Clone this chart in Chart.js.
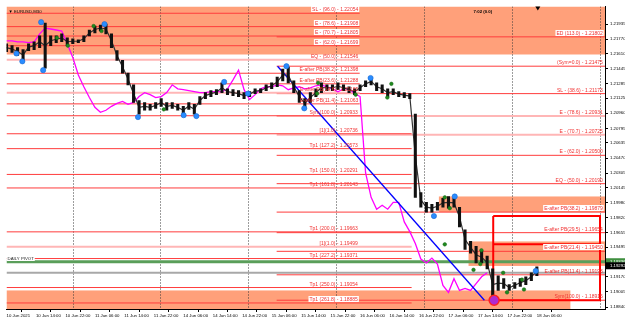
<!DOCTYPE html>
<html><head><meta charset="utf-8">
<script src="https://cdn.jsdelivr.net/npm/chart.js@4.4.1/dist/chart.umd.min.js"></script>
<style>html,body{margin:0;padding:0;background:#fff;overflow:hidden}canvas{display:block}</style>
</head><body>
<canvas id="c" width="625" height="320"></canvas>
<script>
// ---------------- DATA ----------------
const timeLabels = ["10 Jun 2021","10 Jun 14:00","10 Jun 22:00","11 Jun 06:00","11 Jun 14:00","11 Jun 22:00","14 Jun 06:00","14 Jun 14:00","14 Jun 22:00","15 Jun 06:00","15 Jun 14:00","15 Jun 22:00","16 Jun 06:00","16 Jun 14:00","16 Jun 22:00","17 Jun 06:00","17 Jun 14:00","17 Jun 22:00","18 Jun 06:00"];
const timeTickBars = [0,16,32,48,64,80,96,112,128,144,160,176,192,208,224,240,256,272,288];
const daySeparatorBars = [36.0,83.3,131.1,178.9,226.7,274.5,322.3];
const priceTicks = [1.21935,1.21770,1.21610,1.21445,1.21285,1.21125,1.20960,1.20795,1.20635,1.20470,1.20305,1.20145,1.19980,1.19820,1.19655,1.19495,1.19170,1.19005,1.18840];
const priceMin = 1.18819, priceMax = 1.22128, barMin = 0, barMax = 325;

// EURUSD M30 price, one sample every 3 bars (high / low)
const candleHigh = [1.21721,1.21700,1.21678,1.21657,1.21721,1.21742,1.21807,1.21946,1.21807,1.21807,1.21828,1.21785,1.21775,1.21764,1.21807,1.21871,1.21914,1.21925,1.21935,1.21828,
1.21646,1.21539,1.21400,1.21271,1.21100,1.21078,1.21057,1.21078,1.21121,1.21078,1.21078,1.21057,1.21036,1.21078,1.21057,1.21143,1.21186,1.21207,1.21218,1.21293,
1.21228,1.21218,1.21207,1.21186,1.21196,1.21228,1.21228,1.21271,1.21293,1.21357,1.21443,1.21464,1.21314,1.21207,1.21121,1.21186,1.21228,1.21293,1.21271,1.21271,
1.21293,1.21271,1.21250,1.21228,1.21271,1.21314,1.21346,1.21293,1.21271,1.21228,1.21228,1.21196,1.21186,1.21175,1.20950,1.20093,1.19986,1.19965,1.19986,1.20029,
1.20050,1.20029,1.19932,1.19686,1.19558,1.19504,1.19450,1.19397,1.19258,1.19183,1.19151,1.19086,1.19108,1.19151,1.19172,1.19215,1.19279];
const candleLow = [1.21635,1.21625,1.21592,1.21539,1.21646,1.21657,1.21678,1.21453,1.21700,1.21732,1.21742,1.21700,1.21721,1.21732,1.21742,1.21807,1.21839,1.21860,1.21828,1.21678,
1.21539,1.21400,1.21271,1.21078,1.20950,1.20993,1.20993,1.21014,1.21036,1.20993,1.21014,1.20993,1.20950,1.21003,1.20950,1.21057,1.21121,1.21143,1.21164,1.21186,
1.21164,1.21153,1.21143,1.21121,1.21143,1.21175,1.21186,1.21207,1.21228,1.21250,1.21314,1.21293,1.21186,1.21078,1.21014,1.21078,1.21143,1.21186,1.21207,1.21207,
1.21218,1.21207,1.21186,1.21164,1.21207,1.21250,1.21271,1.21207,1.21186,1.21143,1.21164,1.21143,1.21132,1.21121,1.20040,1.19932,1.19879,1.19879,1.19900,1.19932,
1.19922,1.19932,1.19718,1.19472,1.19429,1.19322,1.19322,1.19258,1.18915,1.19022,1.19044,1.19022,1.19044,1.19065,1.19086,1.19129,1.19183];
const sampleStep = 3;

// magenta overlay line (same sampling)
const overlayLine = [1.21753,1.21753,1.21742,1.21742,1.21732,1.21742,1.21828,1.21892,1.21882,1.21871,1.21860,1.21721,1.21571,1.21378,1.21250,1.21132,1.21025,1.20971,1.20993,1.21036,
1.21068,1.21089,1.21057,1.21078,1.21143,1.21186,1.21164,1.21132,1.21143,1.21186,1.21271,1.21228,1.21218,1.21207,1.21196,1.21186,1.21186,1.21196,1.21196,1.21196,
1.21228,1.21325,1.21432,1.21218,1.21111,1.21164,1.21228,1.21250,1.21250,1.21271,1.21261,1.21218,1.21239,1.21250,1.21228,1.21239,1.21261,1.21271,1.21250,1.21228,
1.21196,1.21228,1.21228,1.21175,1.21143,1.20307,1.20040,1.19911,1.19954,1.19911,1.19986,1.19986,1.19772,1.19665,1.19536,1.19365,1.19322,1.19376,1.19311,1.19076,
1.19001,1.19151,1.19022,1.19044,1.19022,1.19097,1.19172,1.19215];

// fractal markers [bar, price]
const blueDots = [[5.4,1.21614],[8.6,1.21528],[19.9,1.21432],[18.8,1.21957],[53.2,1.21935],[71.4,1.20918],[96.2,1.20939],[103.1,1.20929],[118.2,1.21303],[131.1,1.21175],[152.0,1.21475],[161.7,1.21014],[197.7,1.21346],[232.1,1.19836],[243.4,1.20050],[287.4,1.19236]];
const greenDots = [[27.4,1.21785],[33.3,1.21700],[47.3,1.21914],[51.6,1.21860],[85.4,1.21003],[168.7,1.21175],[169.2,1.21293],[189.6,1.21164],[206.8,1.21132],[209.0,1.21282],[238.0,1.20040],[240.7,1.19922],[238.0,1.19526],[253.6,1.19247],[257.3,1.19311],[257.9,1.19461],[269.7,1.19215],[271.8,1.19001],[279.9,1.19140],[281.0,1.19033]];
const bigDot = [[264.8,1.18915]];

// trend line
const trendBars = [147.2,259.5];
const trendPrices = [1.21475,1.18915];

// level set A (first pattern)
const levelsATop = [1.22054,1.21908,1.21805,1.21699,1.21546,1.21398,1.21282,1.21185,1.21063];
const labelsATop = ["SL - (96.0) - 1.22054","E - (78.6) - 1.21908","E - (70.7) - 1.21805","E - (62.0) - 1.21699","EQ - (50.0) - 1.21546","E-after PB(38.2) - 1.21398","E-after PB(23.6) - 1.21288","E-after PB(14.6) - 1.21185","E-after PB(11.4) - 1.21063"];
const levelsATp = [1.20933,1.20736,1.20573,1.20291,1.20143,1.19663,1.19499,1.19371,1.19054,1.18885];
const labelsATp = ["Sym(100.0) - 1.20933","[1](1.0) - 1.20736","Tp1 (127.2) - 1.20573","Tp1 (150.0) - 1.20291","Tp1 (161.8) - 1.20143","Tp1 (200.0) - 1.19663","[1](1.0) - 1.19499","Tp1 (227.2) - 1.19371","Tp1 (250.0) - 1.19054","Tp1 (261.8) - 1.18885"];
const spanATop = [0,191.8], spanATp = [0,220];
// level set B (second pattern)
const levelsB = [1.21796,1.21475,1.21175,1.20929,1.20725,1.20500,1.20190,1.19879,1.19654,1.19450,1.19193,1.18915];
const labelsB = ["ED (113.0) - 1.21802","(Sym=0.0) - 1.21475","SL - (38.6) - 1.21173","E - (78.6) - 1.20931","E - (70.7) - 1.20725","E - (62.0) - 1.20500","EQ - (50.0) - 1.20190","E-after PB(38.2) - 1.19879","E-after PB(29.5) - 1.19654","E-after PB(21.4) - 1.19450","E-after PB(11.4) - 1.19193","Sym(100.0) - 1.18915"];
const spanB = [146.7,325];

// zones
const zoneFrom = [0,234.8,250.9,0];
const zoneTo = [325,325,325,306.2];
const zoneTop = [1.22128,1.20050,1.19558,1.19022];
const zoneBottom = [1.21603,1.19879,1.19290,1.18819];

// box
const boxBars = [264.3,322.3];
const boxPrices = [1.19836,1.18915];
const boxMid = 1.19526;

const pivotPrice = 1.19336, bidPrice = 1.19292, grayLevel = 1.19215;
const symbolTitle = "EURUSD,M30", timerText = "7:02 (0.0)", pivotText = "DAILY PIVOT";

// ---------------- STYLE / BUILD ----------------
const RED = '#ff3c3c', PALE = '#ffb6b6', ZONE = '#FFA07A';
const paleA_top = new Set([4,7]), paleA_tp = new Set([6]), paleB = new Set([3,4]);
const FONT = 'Liberation Sans, Arial, sans-serif';
const AXIS_FONT = 4.3;

const datasets = [];
function level(price, span, color, w) {
  datasets.push({type:'line', data:[{x:span[0],y:price},{x:span[1],y:price}], borderColor:color, borderWidth:w, pointRadius:0, order:20});
}
levelsATop.forEach((p,i)=>level(p, spanATop, paleA_top.has(i)?PALE:RED, paleA_top.has(i)?2:1));
levelsATp.forEach((p,i)=>level(p, spanATp, paleA_tp.has(i)?PALE:RED, paleA_tp.has(i)?2:1));
levelsB.forEach((p,i)=>level(p, spanB, paleB.has(i)?PALE:RED, paleB.has(i)?2:1));
datasets.push({type:'line', data:[{x:barMin,y:pivotPrice},{x:barMax,y:pivotPrice}], borderColor:'#5a9e5a', borderWidth:3, pointRadius:0, order:19});
datasets.push({type:'line', data:[{x:barMin,y:grayLevel},{x:barMax,y:grayLevel}], borderColor:'#a8a8a8', borderWidth:2, pointRadius:0, order:19});
datasets.push({type:'line', data:[{x:boxBars[0],y:boxPrices[0]},{x:boxBars[1],y:boxPrices[0]},{x:boxBars[1],y:boxPrices[1]},{x:boxBars[0],y:boxPrices[1]},{x:boxBars[0],y:boxPrices[0]}], borderColor:'#ff0000', borderWidth:2, pointRadius:0, order:18});
datasets.push({type:'line', data:[{x:boxBars[0],y:boxMid},{x:boxBars[1],y:boxMid}], borderColor:'#ff0000', borderWidth:2, pointRadius:0, order:18});
datasets.push({type:'line', data:overlayLine.map((v,i)=>({x:i*sampleStep,y:v})), borderColor:'#ff00ff', borderWidth:1.3, pointRadius:0, tension:0, order:8});
datasets.push({type:'line', data:trendBars.map((b,i)=>({x:b,y:trendPrices[i]})), borderColor:'#0000ff', borderWidth:1.3, pointRadius:0, order:7});
datasets.push({type:'bar', data:candleHigh.map((h,i)=>({x:i*sampleStep,y:[candleLow[i],h]})), backgroundColor:'#111', barThickness:2.4, grouped:false, order:5});
datasets.push({type:'line', data:candleHigh.map((h,i)=>({x:i*sampleStep,y:(h+candleLow[i])/2})), borderColor:'#333', borderWidth:1.2, pointRadius:0, order:6});
datasets.push({type:'line', showLine:false, data:blueDots.map(d=>({x:d[0],y:d[1]})), pointRadius:2.6, pointBackgroundColor:'#2a8cff', pointBorderColor:'#1a6ad0', pointBorderWidth:0.6, order:2});
datasets.push({type:'line', showLine:false, data:greenDots.map(d=>({x:d[0],y:d[1]})), pointRadius:1.8, pointBackgroundColor:'#1f8a1f', pointBorderColor:'#146414', pointBorderWidth:0.5, order:2});
datasets.push({type:'line', showLine:false, data:bigDot.map(d=>({x:d[0],y:d[1]})), pointRadius:5, pointBackgroundColor:'#b02ad0', pointBorderColor:'#ff2020', pointBorderWidth:1.5, order:1});

function inZone(bar, price){
  for(let i=0;i<zoneFrom.length;i++){ if(bar>=zoneFrom[i]&&bar<=zoneTo[i]&&price<=zoneTop[i]&&price>=zoneBottom[i]) return true; }
  return false;
}

const overlay = {
  id:'overlay',
  beforeDatasetsDraw(chart){
    const {ctx, chartArea:a, scales:{x,y}} = chart;
    ctx.save();
    ctx.beginPath(); ctx.rect(a.left,a.top,a.right-a.left,a.bottom-a.top); ctx.clip();
    ctx.fillStyle = ZONE;
    for(let i=0;i<zoneFrom.length;i++){
      const x0=x.getPixelForValue(zoneFrom[i]), x1=x.getPixelForValue(zoneTo[i]);
      const y0=y.getPixelForValue(zoneTop[i]), y1=y.getPixelForValue(zoneBottom[i]);
      ctx.fillRect(x0,y0,x1-x0,y1-y0);
    }
    ctx.strokeStyle='#3a3a3a'; ctx.lineWidth=1; ctx.setLineDash([1,2]);
    daySeparatorBars.forEach(b=>{const px=Math.round(x.getPixelForValue(b))+0.5; ctx.beginPath(); ctx.moveTo(px,a.top); ctx.lineTo(px,a.bottom); ctx.stroke();});
    ctx.restore();
  },
  afterDatasetsDraw(chart){
    const {ctx, chartArea:a, scales:{x,y}} = chart;
    ctx.save();
    ctx.font = '5px '+FONT; ctx.textBaseline='bottom';
    function lab(text, bar, price, color, align, forceBg){
      const px = x.getPixelForValue(bar), py = Math.round(y.getPixelForValue(price));
      const w = ctx.measureText(text).width;
      const left = align==='right'? px-w : px;
      if(forceBg || inZone(bar - (align==='right'? 10:0), price)){ ctx.fillStyle='#fff'; ctx.fillRect(left-1, py-7, w+2, 6); }
      ctx.fillStyle=color; ctx.textAlign='left'; ctx.fillText(text, left, py-1);
    }
    levelsATop.forEach((p,i)=>lab(labelsATop[i], spanATop[1]-0.8, p, '#f03030','right'));
    levelsATp.forEach((p,i)=>lab(labelsATp[i], 190.8, p, '#f03030','right'));
    levelsB.forEach((p,i)=>lab(labelsB[i], barMax-1.2, p, '#f03030','right'));
    ctx.font = AXIS_FONT+'px '+FONT;
    lab(pivotText, 0.6, pivotPrice, '#202020', 'left', true);
    ctx.font=AXIS_FONT+'px '+FONT; ctx.fillStyle='#000'; ctx.textBaseline='middle';
    ctx.fillText('\u25BC '+symbolTitle, a.left+2, a.top+5);
    ctx.font='bold '+AXIS_FONT+'px '+FONT;
    ctx.fillText(timerText, x.getPixelForValue(253.6), a.top+5);
    const mx = x.getPixelForValue(288.5);
    ctx.beginPath(); ctx.moveTo(mx-2.5,a.top); ctx.lineTo(mx+2.5,a.top); ctx.lineTo(mx,a.top+4); ctx.closePath(); ctx.fill();
    ctx.restore();
  },
  afterDraw(chart){
    const {ctx, chartArea:a, scales:{y}} = chart;
    ctx.save();
    ctx.font=AXIS_FONT+'px '+FONT; ctx.textBaseline='middle';
    function tag(price, bg){
      const py = y.getPixelForValue(price);
      ctx.fillStyle=bg; ctx.fillRect(a.right+1, py-3.5, 19, 7);
      ctx.fillStyle='#fff'; ctx.fillText(price.toFixed(5), a.right+5, py);
    }
    tag(pivotPrice,'#3f8f3f');
    tag(bidPrice,'#000');
    ctx.restore();
  }
};

Chart.defaults.font.family = FONT;
Chart.defaults.font.size = AXIS_FONT;
Chart.defaults.color = '#000';

new Chart(document.getElementById('c'), {
  type:'line',
  data:{datasets},
  options:{
    responsive:false, animation:false, devicePixelRatio:1,
    layout:{padding:0},
    plugins:{legend:{display:false}, tooltip:{enabled:false}},
    scales:{
      x:{type:'linear', position:'bottom', min:barMin, max:barMax, offset:false,
         afterBuildTicks:s=>{s.ticks=timeTickBars.map(v=>({value:v}));},
         afterFit:s=>{s.height=11;},
         ticks:{autoSkip:false, maxRotation:0, align:'start', padding:1, font:{size:AXIS_FONT}, color:'#000',
                callback:(v,i)=>timeLabels[i]},
         grid:{display:true, drawOnChartArea:false, drawTicks:true, tickLength:3, color:'#000'},
         border:{display:true, color:'#000', width:1}},
      y:{type:'linear', position:'right', min:priceMin, max:priceMax,
         afterBuildTicks:s=>{s.ticks=priceTicks.map(v=>({value:v}));},
         afterFit:s=>{s.width=20;},
         ticks:{autoSkip:false, padding:2, font:{size:AXIS_FONT}, color:'#000', callback:v=>v.toFixed(5)},
         grid:{display:true, drawOnChartArea:false, drawTicks:true, tickLength:3, color:'#000'},
         border:{display:true, color:'#000', width:1}}
    }
  },
  plugins:[overlay]
});
</script>
</body></html>
